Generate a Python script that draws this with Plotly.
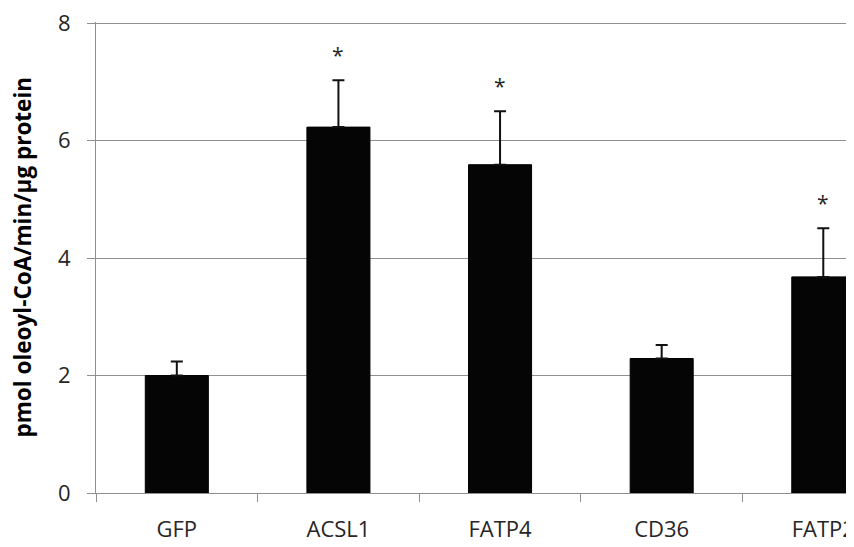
import plotly.graph_objects as go

categories = ["GFP", "ACSL1", "FATP4", "CD36", "FATP2"]
values = [2.00, 6.23, 5.59, 2.29, 3.68]
errors = [0.24, 0.80, 0.91, 0.23, 0.83]
significant = [False, True, True, False, True]
y_ticks = [0, 2, 4, 6, 8]
y_title = "pmol oleoyl-CoA/min/µg protein"

FONT = "Open Sans"
TEXT = "#262626"
GRID = "#8f8f8f"

# page body adds an 8px offset; figure is sized to end exactly at the window edge
L, T, B = 88, 14, 54
W, H = 846, 539
plot_w = W - L

fig = go.Figure()
fig.add_trace(go.Bar(
    x=categories,
    y=values,
    width=0.39,
    marker=dict(color="#050505", line=dict(color="#000000", width=1)),
    error_y=dict(type="data", array=errors, arrayminus=[0] * len(errors),
                 symmetric=False, color="#111111", thickness=2, width=6),
    showlegend=False,
))

for cat, v, e, s in zip(categories, values, errors, significant):
    if s:
        fig.add_annotation(x=cat, y=v + e, text="*", showarrow=False,
                           xref="x", yref="y", yanchor="bottom", yshift=9,
                           font=dict(family=FONT, size=21, color=TEXT))

fig.add_annotation(xref="paper", yref="paper", x=(14 - L) / plot_w, y=0.5,
                   text=y_title, textangle=-90, showarrow=False,
                   xanchor="center", yanchor="middle",
                   font=dict(family=FONT, size=22.5, color="#000000", weight="bold"))

fig.update_layout(
    width=W, height=H,
    margin=dict(l=L, r=0, t=T, b=B),
    plot_bgcolor="white", paper_bgcolor="white",
    font=dict(family=FONT, size=22, color=TEXT),
)
fig.update_xaxes(
    range=[-0.5, 4.19], type="category",
    showline=True, linecolor=GRID, linewidth=1,
    ticks="outside", tickson="boundaries", ticklen=8, tickcolor=GRID,
    showgrid=False, ticklabelstandoff=17, ticklabeloverflow="allow",
    tickfont=dict(family=FONT, size=22, color=TEXT),
)
fig.update_yaxes(
    range=[0, 8.02], tickvals=y_ticks,
    showline=True, linecolor=GRID, linewidth=1,
    ticks="outside", ticklen=8, tickcolor=GRID,
    showgrid=True, gridcolor=GRID, gridwidth=1, zeroline=False,
    ticklabelstandoff=12, ticklabeloverflow="allow",
    tickfont=dict(family=FONT, size=22, color=TEXT),
)

fig.write_html("out.html", config={"displayModeBar": False})
